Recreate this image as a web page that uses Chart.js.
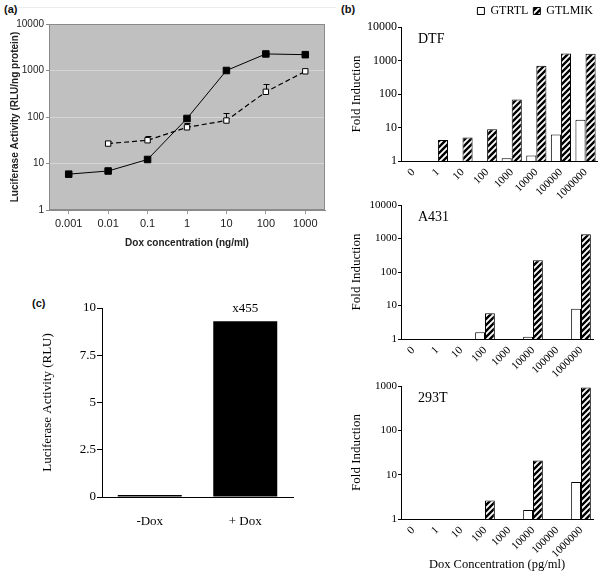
<!DOCTYPE html>
<html>
<head>
<meta charset="utf-8">
<script src="https://cdn.jsdelivr.net/npm/chart.js@4.4.1/dist/chart.umd.min.js"></script>
<style>
  html, body { margin: 0; padding: 0; background: #fff; }
  #page { position: relative; width: 600px; height: 575px; overflow: hidden; }
  #page canvas { position: absolute; }
  .tag { position: absolute; font: bold 11px "Liberation Sans", Arial, sans-serif; color: #111; }
  .rule { position: absolute; left: 18px; top: 7px; width: 318px; height: 1px; background: #ececec; }
</style>
</head>
<body>
<div id="page">
  <div class="rule"></div>
  <div class="tag" style="left:4px;top:3px">(a)</div>
  <div class="tag" style="left:341px;top:3px">(b)</div>
  <div class="tag" style="left:32px;top:297px">(c)</div>
  <canvas id="chartA" width="335" height="255" style="left:0;top:0"></canvas>
  <canvas id="chartDTF" width="260" height="205" style="left:340px;top:0"></canvas>
  <canvas id="chartA431" width="260" height="185" style="left:340px;top:195px"></canvas>
  <canvas id="chart293" width="260" height="200" style="left:340px;top:375px"></canvas>
  <canvas id="chartC" width="310" height="255" style="left:0;top:290px"></canvas>
</div>
<script>
// ---- data: panel (a) ----
const doseA = ['0.001', '0.01', '0.1', '1', '10', '100', '1000'];
const filledA = [5.9, 6.9, 12.2, 93, 1000, 2270, 2190];
const openA = [null, 26.8, 31.6, 60, 84, 348, 960];
const openHighA = [null, 31, 40, 74, 121, 516, null];
const yTicksA = [1, 10, 100, 1000, 10000];

// ---- data: panel (b) ----
const doseB = ['0', '1', '10', '100', '1000', '10000', '100000', '1000000'];
const dtfRTL = [1, 1, 1, 1, 1.2, 1.47, 6.2, 17];
const dtfMIK = [1, 4.2, 5.0, 8.9, 68, 700, 1630, 1580];
const a431RTL = [1, 1, 1, 1.6, 1, 1.17, 1, 8.0];
const a431MIK = [1, 1, 1, 5.9, 1, 225, 1, 1330];
const t293RTL = [1, 1, 1, 1, 1, 1.6, 1, 6.8];
const t293MIK = [1, 1, 1, 2.6, 1, 21, 1, 930];
const yTicksB4 = [1, 10, 100, 1000, 10000];
const yTicksB3 = [1, 10, 100, 1000];

// ---- data: panel (c) ----
const groupsC = ['-Dox', '+ Dox'];
const lucC = [0.1, 9.3];
const foldC = ['', 'x455'];
const yTicksC = [0, 2.5, 5, 7.5, 10];

const SANS = '"Liberation Sans", Arial, sans-serif';
const SERIF = '"Liberation Serif", "Times New Roman", serif';

// hatch fill ///
function makeHatch() {
  const s = 6;
  const c = document.createElement('canvas');
  c.width = s; c.height = s;
  const g = c.getContext('2d');
  g.fillStyle = '#fff';
  g.fillRect(0, 0, s, s);
  g.strokeStyle = '#000';
  g.lineWidth = 2.4;
  g.beginPath();
  g.moveTo(0, s); g.lineTo(s, 0);
  g.moveTo(-1, 1); g.lineTo(1, -1);
  g.moveTo(s - 1, s + 1); g.lineTo(s + 1, s - 1);
  g.stroke();
  return g.createPattern(c, 'repeat');
}
const hatch = makeHatch();

// ---- plugins ----
const plotFrame = {
  id: 'plotFrame',
  beforeDraw(chart) {
    const { ctx, chartArea: a } = chart;
    ctx.save();
    ctx.fillStyle = '#c0c0c0';
    ctx.fillRect(a.left, a.top, a.width, a.height);
    ctx.restore();
  },
  beforeDatasetsDraw(chart) {
    const { ctx, chartArea: a } = chart;
    ctx.save();
    ctx.strokeStyle = '#8a8a8a';
    ctx.lineWidth = 1;
    ctx.strokeRect(Math.round(a.left) + 0.5, Math.round(a.top) + 0.5,
      Math.round(a.width) - 1, Math.round(a.height) - 1);
    ctx.restore();
  }
};

const errorBars = {
  id: 'errorBars',
  beforeDatasetsDraw(chart) {
    const { ctx, scales: { x, y } } = chart;
    ctx.save();
    ctx.strokeStyle = '#000';
    ctx.lineWidth = 1;
    openHighA.forEach((hi, i) => {
      if (hi == null) return;
      const px = Math.round(x.getPixelForValue(i)) + 0.5;
      const y0 = y.getPixelForValue(openA[i]);
      const y1 = Math.round(y.getPixelForValue(hi)) + 0.5;
      ctx.beginPath();
      ctx.moveTo(px, y0);
      ctx.lineTo(px, y1);
      ctx.moveTo(px - 3, y1);
      ctx.lineTo(px + 3, y1);
      ctx.stroke();
    });
    ctx.restore();
  }
};

const cellName = {
  id: 'cellName',
  afterDraw(chart, args, opts) {
    if (!opts.text) return;
    const { ctx, chartArea: a } = chart;
    ctx.save();
    ctx.font = '14px ' + SERIF;
    ctx.fillStyle = '#000';
    ctx.textBaseline = 'middle';
    ctx.fillText(opts.text, a.left + 17, a.top + 12);
    ctx.restore();
  }
};

const foldLabel = {
  id: 'foldLabel',
  afterDatasetsDraw(chart) {
    const { ctx } = chart;
    const meta = chart.getDatasetMeta(0);
    ctx.save();
    ctx.font = '13px ' + SERIF;
    ctx.fillStyle = '#000';
    ctx.textAlign = 'center';
    ctx.textBaseline = 'middle';
    foldC.forEach((t, i) => {
      if (!t) return;
      const bar = meta.data[i];
      ctx.fillText(t, bar.x, bar.y - 13);
    });
    ctx.restore();
  }
};

// ── PANEL (a) ────────────────────────────────
new Chart(document.getElementById('chartA'), {
  type: 'line',
  data: {
    labels: doseA,
    datasets: [
      {
        label: 'filled',
        data: filledA,
        borderColor: '#000',
        borderWidth: 1,
        pointStyle: 'rect',
        pointRadius: 4.6,
        pointBackgroundColor: '#000',
        pointBorderColor: '#000',
        pointBorderWidth: 1
      },
      {
        label: 'open',
        data: openA,
        borderColor: '#000',
        borderWidth: 1.2,
        borderDash: [5, 3],
        pointStyle: 'rect',
        pointRadius: 3.8,
        pointBackgroundColor: '#fff',
        pointBorderColor: '#000',
        pointBorderWidth: 1
      }
    ]
  },
  options: {
    responsive: false,
    animation: false,
    devicePixelRatio: 1,
    layout: { padding: { top: 24, right: 10, left: 0, bottom: 0 } },
    plugins: { legend: { display: false }, tooltip: { enabled: false } },
    scales: {
      x: {
        type: 'category',
        offset: true,
        afterFit: s => { s.height = 45; },
        grid: { display: true, drawOnChartArea: false, tickLength: 4, tickColor: '#9a9a9a' },
        border: { color: '#8a8a8a' },
        ticks: { font: { family: SANS, size: 11 }, color: '#222', padding: 3, maxRotation: 0 },
        title: {
          display: true,
          text: 'Dox concentration (ng/ml)',
          font: { family: SANS, size: 10, weight: 'bold' },
          color: '#222',
          padding: { top: 0, bottom: 6 }
        }
      },
      y: {
        type: 'logarithmic',
        min: 1,
        max: 10000,
        afterBuildTicks: s => { s.ticks = yTicksA.map(v => ({ value: v })); },
        afterFit: s => { s.width = 49; },
        grid: {
          color: c => (c.tick && c.tick.value === 10000) ? '#8a8a8a' : '#d6d6d6',
          tickColor: '#8a8a8a',
          tickLength: 3
        },
        border: { color: '#8a8a8a' },
        ticks: { font: { family: SANS, size: 10 }, color: '#222', padding: 2, callback: v => String(v) },
        title: {
          display: true,
          text: 'Luciferase Activity (RLU/ng protein)',
          font: { family: SANS, size: 10, weight: 'bold' },
          color: '#222',
          padding: { top: 9, bottom: 0 }
        }
      }
    }
  },
  plugins: [plotFrame, errorBars]
});

// ── PANEL (b) ────────────────────────────────
function cellChart(id, name, rtl, mik, yMax, yTicks, cfg) {
  return new Chart(document.getElementById(id), {
    type: 'bar',
    data: {
      labels: doseB,
      datasets: [
        {
          label: 'GTRTL',
          data: rtl,
          backgroundColor: '#fff',
          borderColor: '#000',
          borderWidth: 1,
          categoryPercentage: 0.82,
          barPercentage: 1
        },
        {
          label: 'GTLMIK',
          data: mik,
          backgroundColor: hatch,
          borderColor: '#000',
          borderWidth: 1,
          categoryPercentage: 0.82,
          barPercentage: 1
        }
      ]
    },
    options: {
      responsive: false,
      animation: false,
      devicePixelRatio: 1,
      layout: { padding: cfg.padding },
      plugins: {
        legend: {
          display: !!cfg.legend,
          position: 'top',
          align: 'end',
          labels: { boxWidth: 7, boxHeight: 7, font: { family: SERIF, size: 12 }, color: '#000', padding: 5 }
        },
        tooltip: { enabled: false },
        cellName: { text: name }
      },
      scales: {
        x: {
          afterFit: s => { s.height = cfg.xHeight; },
          grid: { display: false, drawTicks: false },
          border: { color: '#000', width: 1 },
          ticks: {
            font: { family: SERIF, size: 11 },
            color: '#000',
            minRotation: 45,
            maxRotation: 45,
            padding: 5
          },
          title: {
            display: !!cfg.xTitle,
            text: cfg.xTitle || '',
            font: { family: SERIF, size: 12.5 },
            color: '#000',
            padding: { top: 0, bottom: 3 }
          }
        },
        y: {
          type: 'logarithmic',
          min: 1,
          max: yMax,
          afterBuildTicks: s => { s.ticks = yTicks.map(v => ({ value: v })); },
          afterFit: s => { s.width = 61; },
          grid: { drawOnChartArea: false, tickLength: 3, tickColor: '#000' },
          border: { color: '#000' },
          ticks: { font: { family: SERIF, size: cfg.yFont }, color: '#000', padding: 1, callback: v => String(v) },
          title: {
            display: true,
            text: 'Fold Induction',
            font: { family: SERIF, size: 13 },
            color: '#000',
            padding: { top: 9, bottom: 0 }
          }
        }
      }
    },
    plugins: [cellName]
  });
}

cellChart('chartDTF', 'DTF', dtfRTL, dtfMIK, 10000, yTicksB4,
  { padding: { top: 0, right: 2, left: 0, bottom: 0 }, legend: true, xHeight: 44, yFont: 12 });
cellChart('chartA431', 'A431', a431RTL, a431MIK, 10000, yTicksB4,
  { padding: { top: 10, right: 7, left: 0, bottom: 0 }, xHeight: 41, yFont: 11 });
cellChart('chart293', '293T', t293RTL, t293MIK, 1000, yTicksB3,
  { padding: { top: 11, right: 7, left: 0, bottom: 0 }, xHeight: 56, yFont: 11,
    xTitle: 'Dox Concentration (pg/ml)' });

// ── PANEL (c) ────────────────────────────────
new Chart(document.getElementById('chartC'), {
  type: 'bar',
  data: {
    labels: groupsC,
    datasets: [{
      label: 'RLU',
      data: lucC,
      backgroundColor: '#000',
      borderWidth: 0,
      categoryPercentage: 1,
      barPercentage: 0.67
    }]
  },
  options: {
    responsive: false,
    animation: false,
    devicePixelRatio: 1,
    layout: { padding: { top: 18, right: 17, left: 40, bottom: 0 } },
    plugins: { legend: { display: false }, tooltip: { enabled: false } },
    scales: {
      x: {
        afterFit: s => { s.height = 48; },
        grid: { display: false, drawTicks: false },
        border: { color: '#000' },
        ticks: { font: { family: SERIF, size: 13 }, color: '#000', padding: 17 }
      },
      y: {
        min: 0,
        max: 10,
        afterBuildTicks: s => { s.ticks = yTicksC.map(v => ({ value: v })); },
        afterFit: s => { s.width = 62; },
        grid: { drawOnChartArea: false, tickLength: 5, tickColor: '#000' },
        border: { color: '#000' },
        ticks: { font: { family: SERIF, size: 13 }, color: '#000', padding: 1 },
        title: {
          display: true,
          text: 'Luciferase Activity (RLU)',
          font: { family: SERIF, size: 13 },
          color: '#000',
          padding: { top: 0, bottom: 0 }
        }
      }
    }
  },
  plugins: [foldLabel]
});
</script>
</body>
</html>
